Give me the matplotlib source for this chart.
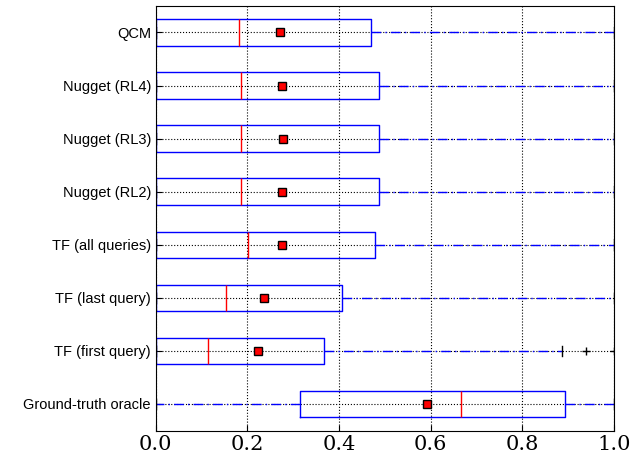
import matplotlib
matplotlib.use("Agg")
import matplotlib.pyplot as plt

labels = ["Ground-truth oracle", "TF (first query)", "TF (last query)", "TF (all queries)",
          "Nugget (RL2)", "Nugget (RL3)", "Nugget (RL4)", "QCM"]
q1 = [0.314, 0.0, 0.0, 0.0, 0.0, 0.0, 0.0, 0.0]
q3 = [0.893, 0.367, 0.406, 0.478, 0.487, 0.487, 0.487, 0.469]
med = [0.666, 0.114, 0.153, 0.201, 0.186, 0.186, 0.186, 0.181]
mean = [0.592, 0.223, 0.236, 0.275, 0.275, 0.277, 0.275, 0.271]
whislo = [0.0] * 8
whishi = [1.0, 0.886, 1.0, 1.0, 1.0, 1.0, 1.0, 1.0]
fliers = [[], [0.939, 1.0], [], [], [], [], [], []]

stats = []
for i in range(8):
    stats.append(dict(label=labels[i], q1=q1[i], q3=q3[i], med=med[i], mean=mean[i],
                      whislo=whislo[i], whishi=whishi[i], fliers=fliers[i]))

fig, ax = plt.subplots(figsize=(6.31, 4.58), dpi=100)
fig.subplots_adjust(left=0.247, right=0.973, bottom=0.06, top=0.987)
ax.bxp(stats, vert=False, widths=0.5, showmeans=True, patch_artist=False,
       boxprops=dict(color="blue", lw=1),
       medianprops=dict(color="red", lw=1),
       whiskerprops=dict(color="blue", ls=(0, (7, 3, 1, 3)), lw=1),
       capprops=dict(color="black", lw=1), capwidths=0.2,
       meanprops=dict(marker="s", markerfacecolor="red", markeredgecolor="black", markersize=6),
       flierprops=dict(marker="+", markeredgecolor="black", markersize=6))
ax.set_xlim(0, 1)
ax.set_ylim(0.5, 8.5)
ax.set_xticks([0, 0.2, 0.4, 0.6, 0.8, 1.0])
ax.set_xticklabels(["0.0", "0.2", "0.4", "0.6", "0.8", "1.0"], family="DejaVu Serif", fontsize=15)
ax.set_yticklabels(labels, family="Liberation Sans", fontsize=10.5)
ax.grid(True, ls=":", color="black", lw=0.8)
ax.set_axisbelow(True)
ax.tick_params(direction="in", length=4)
fig.savefig("out.png")
